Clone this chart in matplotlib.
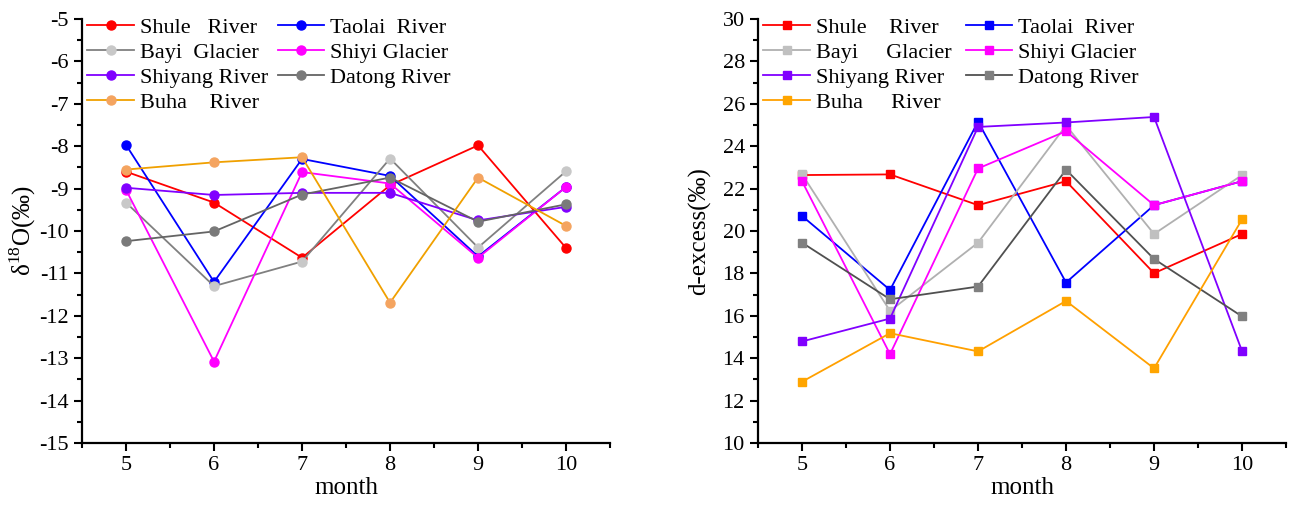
import matplotlib.pyplot as plt
from matplotlib.ticker import MultipleLocator

plt.rcParams["font.family"] = ["Liberation Serif", "DejaVu Serif"]
plt.rcParams["mathtext.fontset"] = "custom"
plt.rcParams["mathtext.rm"] = "Liberation Serif"
plt.rcParams["axes.unicode_minus"] = False

months = [5, 6, 7, 8, 9, 10]

# delta 18O (permil)
d18o_shule = [-8.60, -9.33, -10.63, -8.92, -7.98, -10.40]
d18o_taolai = [-7.97, -11.20, -8.30, -8.70, -10.60, -8.96]
d18o_bayi = [-9.33, -11.30, -10.72, -8.29, -10.39, -8.59]
d18o_shiyi = [-9.03, -13.08, -8.61, -8.88, -10.63, -8.96]
d18o_shiyang = [-8.98, -9.15, -9.10, -9.10, -9.75, -9.43]
d18o_datong = [-10.24, -10.01, -9.14, -8.74, -9.78, -9.37]
d18o_buha = [-8.55, -8.38, -8.26, -11.69, -8.74, -9.88]

# d-excess (permil)
dex_shule = [22.64, 22.67, 21.22, 22.35, 18.01, 19.86]
dex_taolai = [20.71, 17.22, 25.16, 17.57, 21.22, 22.35]
dex_bayi = [22.68, 16.23, 19.45, 24.98, 19.86, 22.64]
dex_shiyi = [22.35, 14.19, 22.95, 24.71, 21.22, 22.35]
dex_shiyang = [14.79, 15.87, 24.91, 25.12, 25.38, 14.33]
dex_datong = [19.45, 16.78, 17.38, 22.89, 18.68, 15.97]
dex_buha = [12.89, 15.18, 14.32, 16.70, 13.52, 20.55]

left_labels = ["Shule   River", "Taolai  River", "Bayi  Glacier", "Shiyi Glacier",
               "Shiyang River", "Datong River", "Buha    River"]
right_labels = ["Shule    River", "Taolai  River", "Bayi     Glacier", "Shiyi Glacier",
                "Shiyang River", "Datong River", "Buha     River"]

# (line colour, marker colour)
left_colors = [("#FF0000", "#FF0000"), ("#0000FF", "#0000FF"), ("#808080", "#C8C8C8"),
               ("#FF00FF", "#FF00FF"), ("#8000FF", "#8000FF"), ("#646464", "#7A7A7A"),
               ("#F0A000", "#F4A460")]
right_colors = [("#FF0000", "#FF0000"), ("#0000FF", "#0000FF"), ("#B0B0B0", "#C0C0C0"),
                ("#FF00FF", "#FF00FF"), ("#8000FF", "#8000FF"), ("#505050", "#808080"),
                ("#FFA000", "#FFA500")]


def style_axes(ax, ymajor, yminor):
    for s in ["top", "right"]:
        ax.spines[s].set_visible(False)
    for s in ["left", "bottom"]:
        ax.spines[s].set_linewidth(1.6)
    ax.set_xlim(4.5, 10.5)
    ax.set_xticks(months)
    ax.xaxis.set_minor_locator(MultipleLocator(0.5))
    ax.yaxis.set_major_locator(MultipleLocator(ymajor))
    ax.yaxis.set_minor_locator(MultipleLocator(yminor))
    ax.tick_params(which="major", direction="out", length=6, width=1.5, labelsize=16)
    ax.tick_params(which="minor", direction="out", length=3.5, width=1.5)
    ax.set_xlabel("month", fontsize=18, labelpad=1)


def add_legend(ax, handles, colspace):
    # matplotlib fills legend column by column
    order = [0, 2, 4, 6, 1, 3, 5]
    hs = [handles[i] for i in order]
    ax.legend(hs, [h.get_label() for h in hs],
              ncol=2, loc="upper left", bbox_to_anchor=(0.01, 1.004), frameon=False,
              fontsize=16, handlelength=2.1, handletextpad=0.25, columnspacing=colspace,
              labelspacing=0.2, borderaxespad=0, borderpad=0)


fig = plt.figure(figsize=(12.98, 5.12), dpi=100)
ax1 = fig.add_axes([0.0632, 0.1348, 0.4068, 0.828])
ax2 = fig.add_axes([0.584, 0.1348, 0.4068, 0.828])

left_series = [d18o_shule, d18o_taolai, d18o_bayi, d18o_shiyi, d18o_shiyang, d18o_datong, d18o_buha]
hl = []
for vals, lab, (lc, mc) in zip(left_series, left_labels, left_colors):
    h, = ax1.plot(months, vals, color=lc, lw=1.3, marker="o", ms=6.5,
                  mfc=mc, mec=mc, label=lab)
    hl.append(h)
ax1.set_ylim(-15, -5)
style_axes(ax1, 1, 0.5)
ax1.set_ylabel(r"δ$^{18}$O(‰)", fontsize=18, labelpad=1)
add_legend(ax1, hl, 0.45)

right_series = [dex_shule, dex_taolai, dex_bayi, dex_shiyi, dex_shiyang, dex_datong, dex_buha]
hr = []
for vals, lab, (lc, mc) in zip(right_series, right_labels, right_colors):
    h, = ax2.plot(months, vals, color=lc, lw=1.3, marker="s", ms=6,
                  mfc=mc, mec=mc, label=lab)
    hr.append(h)
ax2.set_ylim(10, 30)
style_axes(ax2, 2, 1)
ax2.set_ylabel("d-excess(‰)", fontsize=18, labelpad=8)
add_legend(ax2, hr, 0.65)

fig.savefig("out.png", dpi=100)
